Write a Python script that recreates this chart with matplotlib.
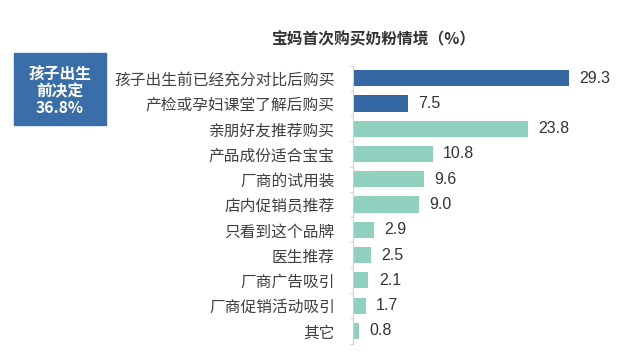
import matplotlib
matplotlib.use("Agg")
import matplotlib.pyplot as plt
import numpy as np

plt.rcParams['font.family'] = ['Noto Sans CJK SC', 'DejaVu Sans']

title = "宝妈首次购买奶粉情境（%）"
categories = ["孩子出生前已经充分对比后购买", "产检或孕妇课堂了解后购买", "亲朋好友推荐购买",
              "产品成份适合宝宝", "厂商的试用装", "店内促销员推荐", "只看到这个品牌",
              "医生推荐", "厂商广告吸引", "厂商促销活动吸引", "其它"]
values = [29.3, 7.5, 23.8, 10.8, 9.6, 9.0, 2.9, 2.5, 2.1, 1.7, 0.8]
group_label = "孩子出生\n前决定\n36.8%"
n_before = 2

dark = "#3567a2"
teal = "#8fd0be"

fig = plt.figure(figsize=(6.22, 3.56), dpi=100)
ax = fig.add_axes([0.5675, 0.035, 0.4146, 0.781])
y = np.arange(len(categories))
colors = [dark if i < n_before else teal for i in range(len(categories))]
ax.barh(y, values, height=0.64, color=colors)
ax.set_ylim(len(categories) - 0.5, -0.5)
ax.set_xlim(0, 35)
ax.set_yticks(y)
ax.set_yticklabels(categories, fontsize=11.3, color="#404040")
ax.set_yticks(np.arange(len(categories) + 1) - 0.5, minor=True)
ax.tick_params(axis='y', which='major', length=0, pad=13)
ax.tick_params(axis='y', which='minor', length=2, color="#cccccc")
ax.set_xticks([])
for s in ['top', 'right', 'bottom']:
    ax.spines[s].set_visible(False)
ax.spines['left'].set_color("#d0d0d0")
ax.spines['left'].set_linewidth(0.8)

for yi, v in zip(y, values):
    ax.text(v + 1.4, yi, f"{v:.1f}", va='center', ha='left', fontsize=11.5,
            color="#333333", family=['Liberation Sans', 'DejaVu Sans'])

fig.text(374 / 622, 1 - 39 / 356, title, ha='center', va='center', fontsize=11.3,
         fontweight='bold', color="#333333")

box = plt.Rectangle((14 / 622, 1 - 125 / 356), 92 / 622, 72 / 356,
                    transform=fig.transFigure, color="#3a6ea9", zorder=1)
fig.patches.append(box)
fig.text(60 / 622, 1 - 91 / 356, group_label, ha='center', va='center',
         fontsize=11.3, fontweight='bold', color='white', linespacing=1.05)

fig.savefig("out.png", dpi=100)
